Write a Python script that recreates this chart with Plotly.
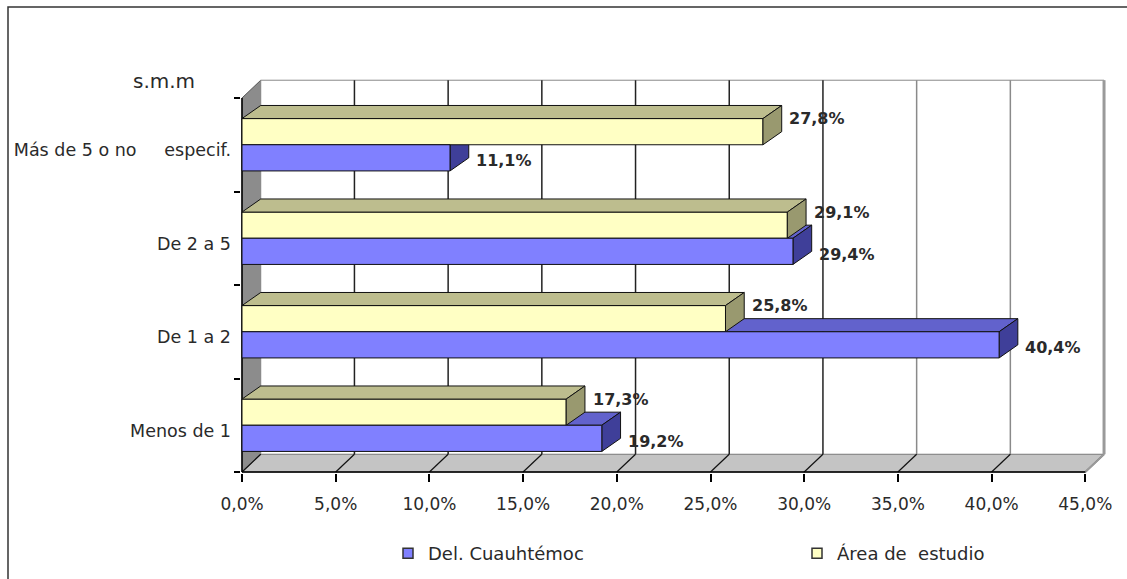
import plotly.graph_objects as go

# ---------------- data ----------------
categories = ["Menos de 1", "De 1 a 2", "De 2 a 5", "Más de 5 o no\u00a0\u00a0\u00a0\u00a0 especif."]
del_cuauhtemoc = [19.2, 40.4, 29.4, 11.1]
area_estudio = [17.3, 25.8, 29.1, 27.8]
x_tick_vals = [0, 5, 10, 15, 20, 25, 30, 35, 40, 45]
x_tick_text = ["0,0%", "5,0%", "10,0%", "15,0%", "20,0%", "25,0%", "30,0%", "35,0%", "40,0%", "45,0%"]
series_names = ["Del. Cuauhtémoc", "Área de\u00a0\u00a0estudio"]
y_title = "s.m.m"

# ---------------- styling / geometry ----------------
W, H = 1127, 579
PX_X, PX_Y = 18.74, 93.5
X0_PX, Y0_PX = 242, 472
PLOT_L, PLOT_R, PLOT_T, PLOT_B = 241, 1108, 70, 473
XMAX = 45
NCAT = len(categories)
WDX, WDY = 1.0, 0.19      # wall depth
BDX, BDY = 1.0, 0.14      # bar depth
BAR_H = 0.28
FONT = "DejaVu Sans, Verdana, sans-serif"
TXT = "#2a2a2a"

BLUE_FRONT, BLUE_TOP, BLUE_SIDE = "#8080FF", "#6262CC", "#3F3F99"
YEL_FRONT, YEL_TOP, YEL_SIDE = "#FFFFC4", "#BDBD8E", "#99996F"
EDGE = "#111111"

xr = [(PLOT_L - X0_PX) / PX_X, (PLOT_R - X0_PX) / PX_X]
yr = [(Y0_PX - PLOT_B) / PX_Y, (Y0_PX - PLOT_T) / PX_Y]


def px2paper(px, py):
    return (px - PLOT_L) / (PLOT_R - PLOT_L), (PLOT_B - py) / (PLOT_B - PLOT_T)


fig = go.Figure()


def poly(xs, ys, fill, line_color=EDGE, width=1):
    fig.add_trace(go.Scatter(x=xs + [xs[0]], y=ys + [ys[0]], mode="lines", fill="toself",
                             fillcolor=fill, line=dict(color=line_color, width=width),
                             hoverinfo="skip", showlegend=False))


def seg(xs, ys, color, width=1):
    fig.add_trace(go.Scatter(x=xs, y=ys, mode="lines", line=dict(color=color, width=width),
                             hoverinfo="skip", showlegend=False))


# left wall
poly([0, WDX, WDX, 0], [0, WDY, NCAT + WDY, NCAT], "#8C8C8C", "#555555")
# floor
poly([0, XMAX, XMAX + WDX, WDX], [0, 0, WDY, WDY], "#C4C4C4", "#555555")
# back wall
poly([WDX, XMAX + WDX, XMAX + WDX, WDX], [WDY, WDY, NCAT + WDY, NCAT + WDY], "#FFFFFF", "#8A8A8A")
# back wall gridlines + floor diagonals
for v in x_tick_vals:
    if 0 < v < XMAX:
        seg([v + WDX, v + WDX], [WDY, NCAT + WDY], "#222222" if v <= 30 else "#8A8A8A", 1.5)
    seg([v, v + WDX], [0, WDY], "#111111", 1.2)
# right edge of back wall
seg([XMAX + WDX, XMAX + WDX], [WDY, NCAT + WDY], "#9A9A9A", 3)
seg([XMAX, XMAX + WDX], [0, WDY], "#9A9A9A", 2)
# front axis lines
seg([0, XMAX], [0, 0], "#000000", 1.5)
seg([0, 0], [0, NCAT], "#000000", 1.5)


def front(v, y0, y1, c):
    poly([0, v, v, 0], [y0, y0, y1, y1], c)


def top(v, y1, c):
    poly([0, v, v + BDX, BDX], [y1, y1, y1 + BDY, y1 + BDY], c)


def side(v, y0, y1, c):
    poly([v, v + BDX, v + BDX, v], [y0, y0 + BDY, y1 + BDY, y1], c)


for i in range(NCAT):
    c = i + 0.5
    b, a = del_cuauhtemoc[i], area_estudio[i]
    top(b, c, BLUE_TOP)
    side(b, c - BAR_H, c, BLUE_SIDE)
    front(a, c, c + BAR_H, YEL_FRONT)
    top(a, c + BAR_H, YEL_TOP)
    side(a, c, c + BAR_H, YEL_SIDE)
    front(b, c - BAR_H, c, BLUE_FRONT)

# data labels
LBL_DX = 2.9
for i in range(NCAT):
    c = i + 0.5
    for v, dy in ((area_estudio[i], 0.28), (del_cuauhtemoc[i], -0.17)):
        fig.add_annotation(x=v + LBL_DX, y=c + dy, text=f"{v:.1f}".replace(".", ",") + "%",
                           showarrow=False, xanchor="center", yanchor="middle",
                           font=dict(family=FONT, size=16, color=TXT, weight="bold"))

# legend entries (one legend per series, placed like the original)
fig.add_trace(go.Scatter(x=[None], y=[None], mode="markers", name=series_names[0], legend="legend",
                         marker=dict(symbol="square", size=10, color=BLUE_FRONT,
                                     line=dict(color="#333333", width=1.5))))
fig.add_trace(go.Scatter(x=[None], y=[None], mode="markers", name=series_names[1], legend="legend2",
                         marker=dict(symbol="square", size=10, color=YEL_FRONT,
                                     line=dict(color="#333333", width=1.5))))

# y title
tx, ty = px2paper(164, 81)
fig.add_annotation(xref="paper", yref="paper", x=tx, y=ty, text=y_title, showarrow=False,
                   xanchor="center", yanchor="middle",
                   font=dict(family=FONT, size=20, color=TXT))

# frame
fx0, fy0 = px2paper(8, 7)
fx1, fy1 = px2paper(1140, 595)
fig.add_shape(type="rect", xref="paper", yref="paper", x0=fx0, y0=fy1, x1=fx1, y1=fy0,
              line=dict(color="#333333", width=1.5), layer="below")

l1x, l1y = px2paper(388, 535)
l2x, l2y = px2paper(797, 535)
leg_common = dict(orientation="h", xanchor="left", yanchor="top", bgcolor="rgba(0,0,0,0)",
                  font=dict(family=FONT, size=18, color=TXT))
fig.update_layout(
    width=W, height=H,
    margin=dict(l=PLOT_L, r=W - PLOT_R, t=PLOT_T, b=H - PLOT_B, pad=0, autoexpand=False),
    paper_bgcolor="white", plot_bgcolor="white",
    font=dict(family=FONT, color=TXT),
    xaxis=dict(range=xr, tickvals=x_tick_vals, ticktext=x_tick_text, ticks="outside",
               ticklen=8, tickwidth=1.5, tickcolor="#000000", showgrid=False, zeroline=False,
               showline=False, ticklabelstandoff=8, tickfont=dict(family=FONT, size=17, color=TXT),
               fixedrange=True),
    yaxis=dict(range=yr, tickvals=[i + 0.5 - 0.06 for i in range(NCAT)], ticktext=categories,
               ticks="", showgrid=False, zeroline=False, showline=False, ticklabelstandoff=9,
               tickfont=dict(family=FONT, size=17.5, color=TXT),
               minor=dict(tickvals=list(range(NCAT + 1)), ticks="outside", ticklen=6,
                          tickwidth=1.5, tickcolor="#000000", showgrid=False),
               fixedrange=True),
    legend=dict(x=l1x, y=l1y, **leg_common),
    legend2=dict(x=l2x, y=l2y, **leg_common),
    showlegend=True,
)

fig.write_html("out.html")
